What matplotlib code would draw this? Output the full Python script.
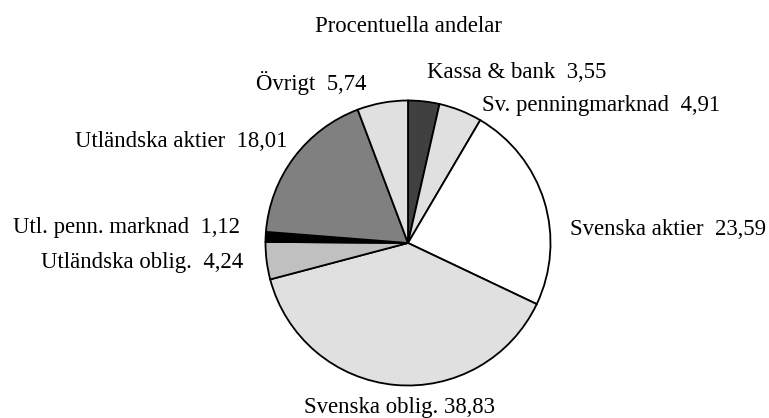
# Procentuella andelar - pie chart

import matplotlib
matplotlib.use('Agg')
import matplotlib.pyplot as plt

plt.rcParams['font.family'] = ['Liberation Serif', 'DejaVu Serif']

# data, clockwise from 12 o'clock
labels = ['Kassa & bank', 'Sv. penningmarknad', 'Svenska aktier',
          'Svenska oblig.', 'Utländska oblig.', 'Utl. penn. marknad',
          'Utländska aktier', 'Övrigt']
values = [3.55, 4.91, 23.59, 38.83, 4.24, 1.12, 18.01, 5.74]
colors = ['#404040', '#e0e0e0', '#ffffff', '#e0e0e0',
          '#c0c0c0', '#000000', '#808080', '#e0e0e0']

# label text anchors in pixels (x, baseline from top, align)
label_pos = [
    (427, 78, 'left'),
    (482, 111, 'left'),
    (570, 235, 'left'),
    (400, 413, 'center'),
    (243, 268, 'right'),
    (240, 233, 'right'),
    (287, 147, 'right'),
    (367, 90, 'right'),
]
seps = ['  ', '  ', '  ', ' ', '  ', '  ', '  ', '  ']

W, H = 769, 418
fig = plt.figure(figsize=(W / 100, H / 100), dpi=100, facecolor='white')
ax = fig.add_axes([0, 0, 1, 1])

ax.pie(values, colors=colors, startangle=90, counterclock=False,
       center=(408, H - 243), radius=142.5,
       wedgeprops={'edgecolor': 'black', 'linewidth': 1.3})

ax.set_xlim(0, W)
ax.set_ylim(0, H)
ax.set_aspect('equal')
ax.axis('off')

for name, val, sep, (x, y, ha) in zip(labels, values, seps, label_pos):
    txt = f'{name}{sep}' + f'{val:.2f}'.replace('.', ',')
    ax.text(x, H - y, txt, ha=ha, va='baseline', fontsize=16.4, color='black')

ax.text(408, H - 32, 'Procentuella andelar', ha='center', va='baseline',
        fontsize=16.4, color='black')

plt.savefig('out.png', dpi=100, facecolor='white')
